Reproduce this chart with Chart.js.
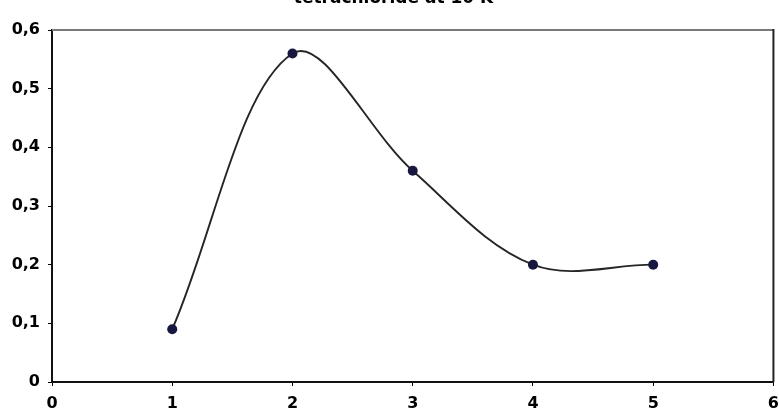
<!DOCTYPE html>
<html>
<head>
<meta charset="utf-8">
<script src="https://cdn.jsdelivr.net/npm/chart.js@4/dist/chart.umd.min.js"></script>
<style>
  html, body { margin: 0; padding: 0; background: #fff; overflow: hidden; width: 779px; height: 410px; }
  #wrap { position: absolute; left: 0; top: -21px; width: 787px; height: 431px; }
</style>
</head>
<body>
<div id="wrap"><canvas id="c"></canvas></div>
<script>
const titleText = 'tetrachloride at 10 K';
const xValues = [1, 2, 3, 4, 5];
const yValues = [0.09, 0.56, 0.36, 0.20, 0.20];
const xTickLabels = ['0', '1', '2', '3', '4', '5', '6'];
const yTickLabels = ['0', '0,1', '0,2', '0,3', '0,4', '0,5', '0,6'];

const points = xValues.map((x, i) => ({ x: x, y: yValues[i] }));

const frame = {
  id: 'frame',
  beforeDatasetsDraw(chart) {
    const a = chart.chartArea, ctx = chart.ctx;
    ctx.save();
    ctx.strokeStyle = '#7a7a7a';
    ctx.lineWidth = 2;
    ctx.beginPath(); ctx.moveTo(a.left, a.top); ctx.lineTo(a.right, a.top); ctx.stroke();
    ctx.strokeStyle = '#222';
    ctx.beginPath(); ctx.moveTo(a.right, a.top - 1); ctx.lineTo(a.right, a.bottom); ctx.stroke();
    ctx.restore();
  }
};

const tickFont = { family: 'DejaVu Sans', size: 16, weight: 'bold' };

new Chart(document.getElementById('c'), {
  type: 'scatter',
  data: {
    datasets: [{
      data: points,
      showLine: true,
      tension: 0.35,
      borderColor: '#262626',
      borderWidth: 1.9,
      pointRadius: 5,
      pointBackgroundColor: '#17173f',
      pointBorderColor: '#17173f',
      pointBorderWidth: 0
    }]
  },
  plugins: [frame],
  options: {
    responsive: true,
    maintainAspectRatio: false,
    animation: false,
    layout: { padding: { left: 0, right: 0, top: 0, bottom: 0 } },
    plugins: {
      legend: { display: false },
      tooltip: { enabled: false },
      title: {
        display: true,
        text: titleText,
        color: '#000',
        font: { family: 'DejaVu Sans', size: 17, weight: 'bold' },
        padding: { top: 9, bottom: 21.6 }
      }
    },
    scales: {
      x: {
        type: 'linear',
        min: 0, max: 6,
        afterFit(s) { s.height = 28; },
        ticks: {
          stepSize: 1,
          color: '#000',
          padding: 8,
          font: tickFont,
          callback: (v, i) => xTickLabels[i]
        },
        grid: { display: true, drawOnChartArea: false, tickLength: 4, color: '#000', tickWidth: 1 },
        border: { display: true, color: '#111', width: 2 }
      },
      y: {
        min: 0, max: 0.6,
        afterFit(s) { s.width = 52; },
        ticks: {
          stepSize: 0.1,
          color: '#000',
          padding: 8,
          font: tickFont,
          callback: (v, i) => yTickLabels[i]
        },
        grid: { display: true, drawOnChartArea: false, tickLength: 4, color: '#000', tickWidth: 1 },
        border: { display: true, color: '#111', width: 2 }
      }
    }
  }
});
</script>
</body>
</html>
